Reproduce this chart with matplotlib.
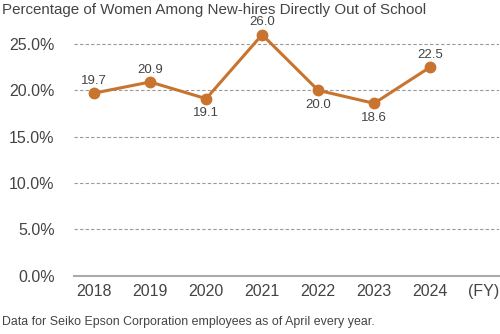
import matplotlib
matplotlib.use("Agg")
import matplotlib.pyplot as plt

plt.rcParams['font.family'] = ['Liberation Sans', 'DejaVu Sans']

years = ['2018', '2019', '2020', '2021', '2022', '2023', '2024']
pct = [19.7, 20.9, 19.1, 26.0, 20.0, 18.6, 22.5]
yticks = [0, 5, 10, 15, 20, 25]
# label above (+) or below (-) the point
label_side = [1, 1, -1, 1, -1, -1, 1]

orange = '#c8742f'
textc = '#444444'

fig = plt.figure(figsize=(5, 3.34), dpi=100)
ax = fig.add_axes([0.148, 0.174, 0.85, 0.75])

x = list(range(len(years)))
ax.plot(x, pct, color=orange, lw=2.2, marker='o', ms=7.5, zorder=3)
for xi, v, s in zip(x, pct, label_side):
    off = 8.8 if s > 0 else -10.5
    ax.annotate(f'{v:.1f}', (xi, v), xytext=(0, off), textcoords='offset points',
                ha='center', va='center', fontsize=9.5, color=textc)

ax.set_ylim(0, 27)
ax.set_xlim(-0.36, 7.23)
ax.set_yticks(yticks)
ax.set_yticklabels([f'{t:.1f}%' for t in yticks], fontsize=11.5, color=textc)
ax.set_xticks(x + [6.95])
ax.set_xticklabels(years + ['(FY)'], fontsize=11.5, color=textc)
ax.tick_params(length=0, pad=6)
ax.tick_params(axis='y', pad=14)

for t in yticks[1:]:
    ax.axhline(t, color='#999999', lw=0.8, ls=(0, (3, 2)), zorder=1)
for s in ['top', 'right', 'left']:
    ax.spines[s].set_visible(False)
ax.spines['bottom'].set_color('#aaaaaa')
ax.spines['bottom'].set_linewidth(1.5)

fig.text(0.004, 0.97, 'Percentage of Women Among New-hires Directly Out of School',
         fontsize=10.9, color=textc, va='center')
fig.text(0.004, 0.035, 'Data for Seiko Epson Corporation employees as of April every year.',
         fontsize=8.9, color=textc, va='center')

fig.savefig('out.png', dpi=100)
